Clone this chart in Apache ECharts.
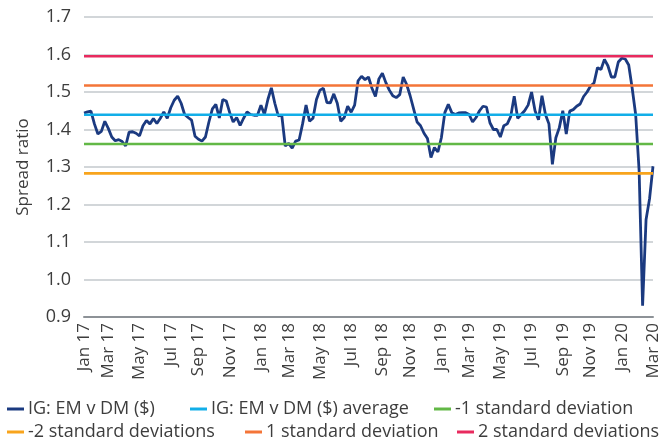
<!DOCTYPE html>
<html>
<head>
<meta charset="utf-8">
<script src="https://cdn.jsdelivr.net/npm/echarts@6/dist/echarts.min.js"></script>
<style>
  html, body { margin: 0; padding: 0; background: #fff; }
  #chart { width: 662px; height: 439px; }
</style>
</head>
<body>
<div id="chart"></div>
<script>
// weekly observations, first one on 13 Jan 2017
const firstWeek = [2017, 0, 13];
const monthNames = ["Jan", "Feb", "Mar", "Apr", "May", "Jun", "Jul", "Aug", "Sep", "Oct", "Nov", "Dec"];
const tickLabels = ["Jan 17", "Mar 17", "May 17", "Jul 17", "Sep 17", "Nov 17",
  "Jan 18", "Mar 18", "May 18", "Jul 18", "Sep 18", "Nov 18",
  "Jan 19", "Mar 19", "May 19", "Jul 19", "Sep 19", "Nov 19", "Jan 20", "Mar 20"];

// IG: EM v DM ($) spread ratio
const ratio = [
  1.444, 1.447, 1.449, 1.415, 1.388, 1.395, 1.422, 1.403, 1.380, 1.370,
  1.373, 1.368, 1.356, 1.393, 1.394, 1.390, 1.383, 1.410, 1.424, 1.415,
  1.429, 1.416, 1.430, 1.447, 1.430, 1.458, 1.478, 1.489, 1.470, 1.440,
  1.432, 1.425, 1.382, 1.374, 1.369, 1.380, 1.420, 1.455, 1.467, 1.431,
  1.480, 1.476, 1.445, 1.420, 1.432, 1.411, 1.430, 1.447, 1.440, 1.438,
  1.438, 1.465, 1.440, 1.480, 1.511, 1.470, 1.436, 1.438, 1.356, 1.363,
  1.350, 1.369, 1.372, 1.415, 1.465, 1.422, 1.430, 1.480, 1.505, 1.510,
  1.472, 1.471, 1.495, 1.470, 1.422, 1.432, 1.462, 1.446, 1.465, 1.530,
  1.542, 1.533, 1.540, 1.510, 1.488, 1.535, 1.550, 1.525, 1.505, 1.490,
  1.485, 1.493, 1.540, 1.520, 1.490, 1.455, 1.420, 1.410, 1.390, 1.376,
  1.325, 1.352, 1.340, 1.378, 1.445, 1.467, 1.445, 1.440, 1.444, 1.445,
  1.445, 1.440, 1.420, 1.432, 1.450, 1.462, 1.460, 1.418, 1.400, 1.400,
  1.380, 1.410, 1.415, 1.435, 1.489, 1.430, 1.440, 1.450, 1.465, 1.500,
  1.450, 1.426, 1.490, 1.440, 1.415, 1.307, 1.378, 1.405, 1.450, 1.388,
  1.449, 1.453, 1.462, 1.468, 1.488, 1.500, 1.516, 1.524, 1.565, 1.560,
  1.587, 1.570, 1.540, 1.540, 1.580, 1.590, 1.588, 1.572, 1.510, 1.440,
  1.290, 0.930, 1.160, 1.215, 1.302
];

// average and standard deviation bands
const average = 1.4393;
const minus1sd = 1.3612;
const minus2sd = 1.2831;
const plus1sd = 1.5174;
const plus2sd = 1.5955;

const weeks = ratio.map((v, i) => {
  const d = new Date(Date.UTC(firstWeek[0], firstWeek[1], firstWeek[2] + 7 * i));
  return monthNames[d.getUTCMonth()] + " " + String(d.getUTCFullYear()).slice(2);
});
// label the first week of every second month
const labelIdx = new Set(tickLabels.map((t) => weeks.indexOf(t)));

const font = "'Open Sans', 'Noto Sans', sans-serif";
const textColor = "#3d3d3d";

function flat(level) {
  return weeks.map(() => level);
}

function refLine(name, level, color) {
  return {
    name: name,
    type: "line",
    data: flat(level),
    symbol: "none",
    lineStyle: { color: color, width: 2.6 },
    itemStyle: { color: color },
  };
}

// one legend per entry so the two rows sit like the original
function legendItem(name, left, top) {
  return {
    left: left,
    top: top,
    itemWidth: 17,
    itemHeight: 3,
    icon: "rect",
    textStyle: { fontFamily: font, fontSize: 18, color: textColor, padding: [0, 0, 0, -1] },
    data: [name],
  };
}

const chart = echarts.init(document.getElementById("chart"));
chart.setOption({
  animation: false,
  grid: { left: 84, right: 9, top: 17, bottom: 122 },
  legend: [
    legendItem("IG: EM v DM ($)", 2, 395),
    legendItem("IG: EM v DM ($) average", 185, 395),
    legendItem("-1 standard deviation", 429, 395),
    legendItem("-2 standard deviations", 2, 418),
    legendItem("1 standard deviation", 240, 418),
    legendItem("2 standard deviations", 452, 418),
  ],
  xAxis: {
    type: "category",
    data: weeks,
    boundaryGap: false,
    axisLine: { lineStyle: { color: "#8d9297", width: 2 } },
    axisTick: { show: false },
    axisLabel: {
      rotate: 90,
      margin: 6,
      interval: (i) => labelIdx.has(i),
      fontFamily: font,
      fontSize: 17,
      color: textColor,
    },
  },
  yAxis: {
    type: "value",
    min: 0.9,
    max: 1.7,
    interval: 0.1,
    name: "Spread ratio",
    nameLocation: "middle",
    nameGap: 52,
    nameTextStyle: { fontFamily: font, fontSize: 17, color: textColor },
    axisLine: { show: false },
    axisTick: { show: false },
    axisLabel: {
      margin: 13,
      fontFamily: font,
      fontSize: 18,
      color: textColor,
      formatter: (v) => v.toFixed(1),
    },
    splitLine: { lineStyle: { color: "#c3c8cc", width: 1.5 } },
  },
  series: [
    {
      name: "IG: EM v DM ($)",
      type: "line",
      data: ratio,
      symbol: "none",
      z: 3,
      lineStyle: { color: "#1b3a80", width: 2.8 },
      itemStyle: { color: "#1b3a80" },
    },
    refLine("IG: EM v DM ($) average", average, "#12aee8"),
    refLine("-1 standard deviation", minus1sd, "#62b846"),
    refLine("-2 standard deviations", minus2sd, "#f8a41c"),
    refLine("1 standard deviation", plus1sd, "#f47538"),
    refLine("2 standard deviations", plus2sd, "#e82a5e"),
  ],
});
</script>
</body>
</html>
